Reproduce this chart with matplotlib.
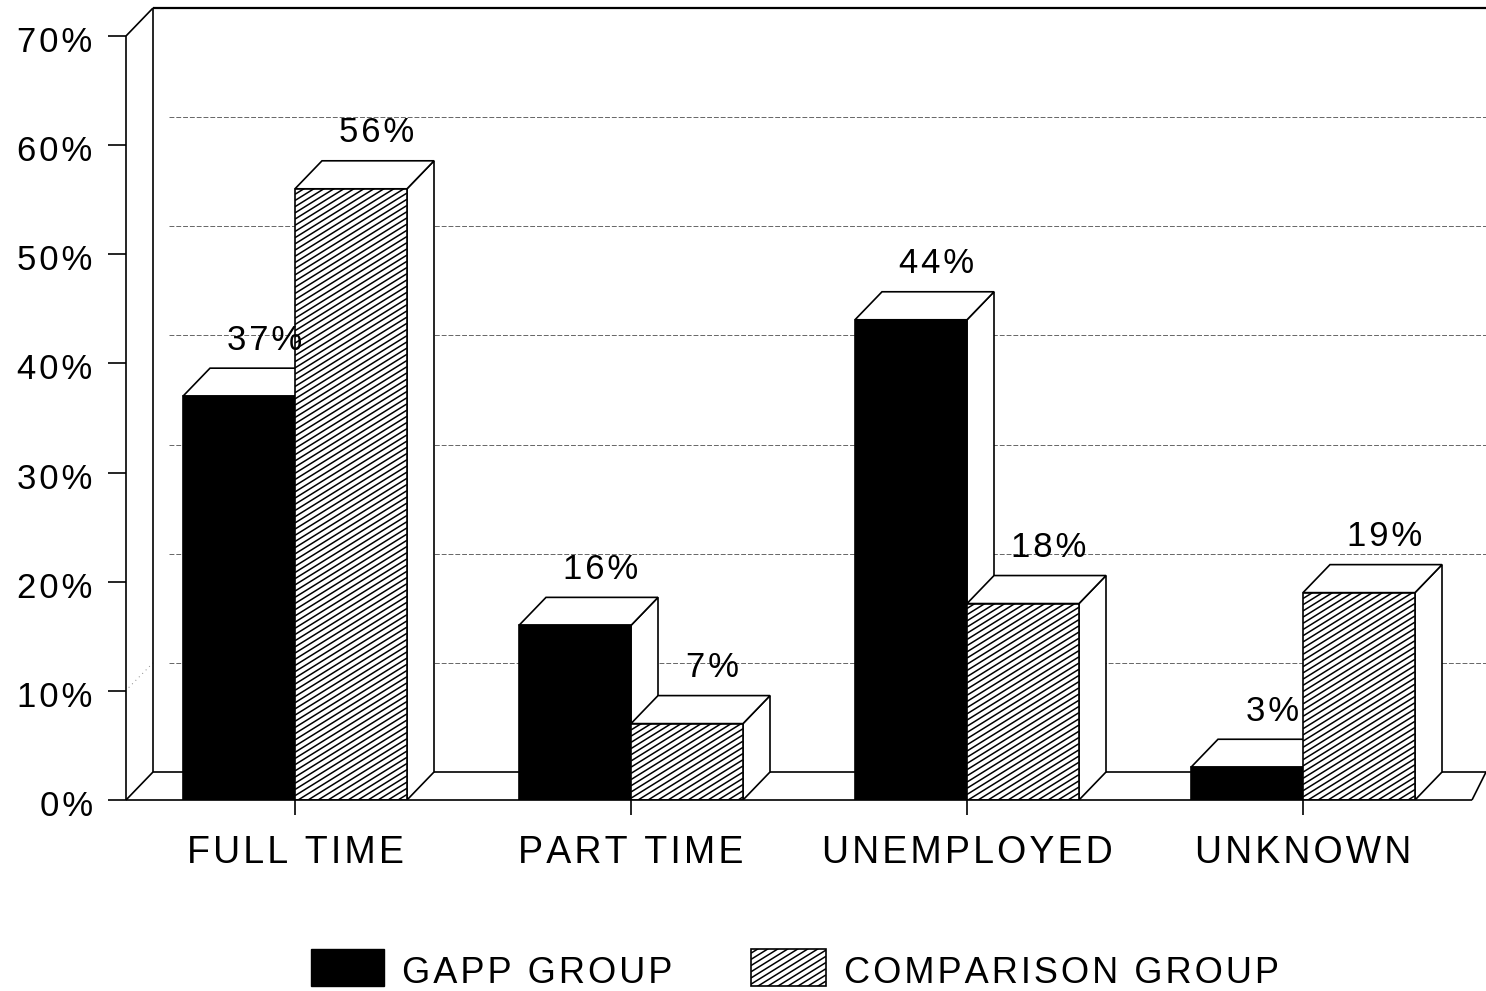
import numpy as np
import matplotlib.pyplot as plt
from matplotlib.collections import LineCollection
from matplotlib.patches import Polygon, Rectangle
from matplotlib.transforms import IdentityTransform, ScaledTranslation

plt.rcParams['font.family'] = ['Liberation Sans', 'DejaVu Sans']

# Values
categories = ["FULL TIME", "PART TIME", "UNEMPLOYED", "UNKNOWN"]
gapp = [37, 16, 44, 3]
comparison = [56, 7, 18, 19]
y_ticks = [0, 10, 20, 30, 40, 50, 60, 70]
group_names = ["GAPP GROUP", "COMPARISON GROUP"]

W, H = 1486, 991
fig = plt.figure(figsize=(W / 100, H / 100), dpi=100)
ax = fig.add_axes([126 / W, 1 - 800 / H, (W - 126) / W, 764 / H])
ax.set_xlim(-169 / 336, (W - 295) / 336)
ax.set_ylim(0, 70)
ax.patch.set_visible(False)
for s in ax.spines.values():
    s.set_visible(False)

# depth of the fake 3d box, in data units
dx = 27 / 336
dy = 28 / (764 / 70)
bw = 1 / 3
x_left = -169 / 336
x_end = (1472 - 295) / 336
x_max = (W - 295) / 336
lw = 1.2


def spaced(s):
    # the original has wide letter spacing
    return '\u200a'.join(s)


def line(xs, ys, **kw):
    kw.setdefault('color', 'black')
    kw.setdefault('lw', lw)
    ax.plot(xs, ys, clip_on=False, solid_capstyle='butt', **kw)


def shallow_hatch(patch, zorder):
    # matplotlib hatches are 45 degrees, the original is flatter
    tr = ax.transData if patch.axes is ax else fig.transFigure
    x0, y0 = tr.transform(patch.get_xy())
    x1, y1 = tr.transform((patch.get_x() + patch.get_width(), patch.get_y() + patch.get_height()))
    slope = 0.62
    step = 6.2
    k0 = np.floor((y0 - slope * x1) / step)
    k1 = np.ceil((y1 - slope * x0) / step)
    segs = [[(x0, slope * x0 + k * step), (x1, slope * x1 + k * step)] for k in np.arange(k0, k1 + 1)]
    lc = LineCollection(segs, colors='black', linewidths=1.1, transform=IdentityTransform(), zorder=zorder)
    if patch.axes is ax:
        ax.add_collection(lc)
    else:
        fig.add_artist(lc)
    lc.set_clip_path(patch)


# back wall gridlines
for t in y_ticks[1:-1]:
    line([x_left + dx * 1.6, x_max], [t + dy, t + dy], color='#666666', lw=0.7, ls=(0, (5, 2)), zorder=1)
line([x_left + dx * 0.1, x_left + dx], [10.3, 10 + dy], color='#888888', lw=0.7, ls=(0, (1, 4)), zorder=1)

# walls and floor
line([x_left, x_left], [0, 70])
line([x_left, x_left + dx], [70, 70 + dy])
line([x_left + dx, x_left + dx], [dy, 70 + dy])
line([x_left + dx, x_max], [70 + dy, 70 + dy], lw=1.6)
line([x_left, x_left + dx], [0, dy])
line([x_left + dx, x_max], [dy, dy])
line([x_left, x_end], [0, 0], zorder=6)
line([x_end, x_max], [0, dy])

ax.set_xticks(range(len(categories)), [spaced(c) for c in categories])
ax.set_yticks(y_ticks, [spaced(f"{t}%") for t in y_ticks])
ax.tick_params(axis='y', length=13, width=1.2, labelsize=25, pad=11)
ax.tick_params(axis='x', length=0, labelsize=27, pad=25)
for lab in ax.get_yticklabels():
    lab.set_transform(lab.get_transform() + ScaledTranslation(0, -3 / 100, fig.dpi_scale_trans))
for i in range(len(categories)):
    line([i, i], [0, -1.4], zorder=6)


def bar3d(x, v, black):
    z = 3 + x * 0.01
    top = [(x, v), (x + bw, v), (x + bw + dx, v + dy), (x + dx, v + dy)]
    side = [(x + bw, 0), (x + bw + dx, dy), (x + bw + dx, v + dy), (x + bw, v)]
    ax.add_patch(Polygon(side, fc='white', ec='black', lw=lw, zorder=z))
    ax.add_patch(Polygon(top, fc='white', ec='black', lw=lw, zorder=z))
    face = ax.add_patch(Rectangle((x, 0), bw, v, fc='black' if black else 'white', ec='black', lw=lw, zorder=z))
    if not black:
        shallow_hatch(face, z + 0.001)


for i in range(len(categories)):
    bar3d(i - bw, gapp[i], True)
    bar3d(i, comparison[i], False)
    ax.text(i - bw / 2 + dx - 0.004, gapp[i] + dy + 1.05, spaced(f"{gapp[i]}%"), ha='center', va='bottom', fontsize=25, zorder=10)
    ax.text(i + bw / 2 + dx - 0.004, comparison[i] + dy + 1.05, spaced(f"{comparison[i]}%"), ha='center', va='bottom', fontsize=25, zorder=10)

# legend drawn by hand to keep the wide spacing of the original
black_key = Rectangle((311 / W, 1 - 986 / H), 73 / W, 37 / H, transform=fig.transFigure, fc='black', ec='black')
hatch_key = Rectangle((751 / W, 1 - 986 / H), 75 / W, 37 / H, transform=fig.transFigure, fc='white', ec='black', lw=1.2)
fig.add_artist(black_key)
fig.add_artist(hatch_key)
shallow_hatch(hatch_key, 5)
fig.text(402 / W, 1 - 983 / H, spaced(group_names[0]), fontsize=26, va='baseline')
fig.text(844 / W, 1 - 983 / H, spaced(group_names[1]), fontsize=26, va='baseline')

fig.savefig("out.png", dpi=100)
